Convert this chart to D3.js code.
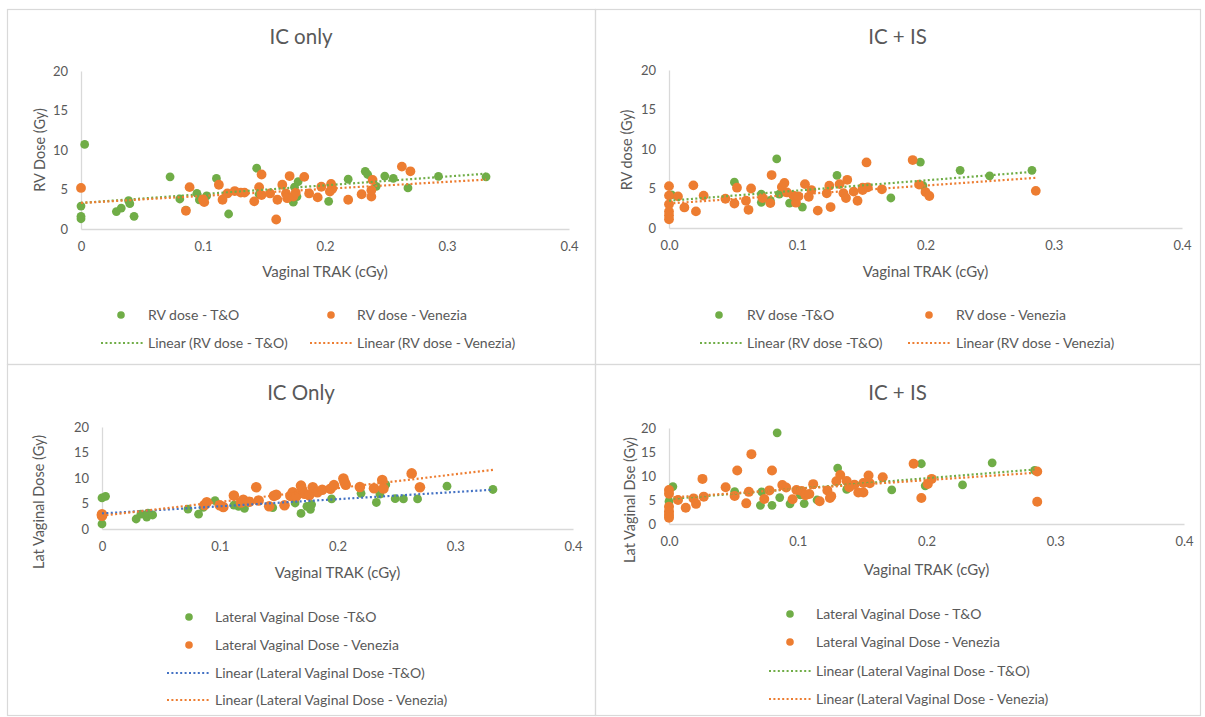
<!DOCTYPE html>
<html>
<head>
<meta charset="utf-8">
<script src="https://cdn.jsdelivr.net/npm/d3@7"></script>
<style>
  body { margin: 0; background: #fff; }
  svg { display: block; }
  text { font-family: Lato, "Open Sans", sans-serif; fill: #595959; }
</style>
</head>
<body>
<svg id="chart" width="1205" height="717"></svg>
<script>
// ---- Data: [Vaginal TRAK (cGy), dose (Gy)] ----

// RV dose, IC only
const rvIcOnlyTO = [
  [0, 1.3], [0, 1.6], [0, 2.9], [0.003, 10.7], [0.029, 2.2], [0.033, 2.65], [0.039, 3.6],
  [0.040, 3.2], [0.0435, 1.6], [0.073, 6.6], [0.081, 3.8], [0.086, 2.4], [0.095, 4.5],
  [0.097, 3.7], [0.103, 4.2], [0.111, 6.4], [0.121, 1.9], [0.144, 7.7], [0.146, 4.4],
  [0.174, 3.4], [0.175, 5.3], [0.178, 6.0], [0.177, 4.1], [0.203, 3.5], [0.219, 6.3],
  [0.233, 7.3], [0.235, 6.9], [0.242, 5.4], [0.249, 6.7], [0.256, 6.4], [0.268, 5.2],
  [0.293, 6.65], [0.332, 6.6]
];
const rvIcOnlyVen = [
  [0, 5.2], [0.086, 2.3], [0.089, 5.3], [0.100, 3.75], [0.101, 3.4], [0.113, 5.6],
  [0.116, 3.7], [0.120, 4.5], [0.126, 4.8], [0.131, 4.6], [0.134, 4.6], [0.142, 3.5],
  [0.146, 5.3], [0.148, 6.9], [0.148, 4.3], [0.155, 4.5], [0.160, 1.2], [0.161, 3.7],
  [0.165, 5.6], [0.168, 4.5], [0.169, 3.9], [0.171, 6.7], [0.174, 4.1], [0.176, 4.6],
  [0.183, 6.6], [0.187, 4.5], [0.194, 4.0], [0.197, 5.35], [0.204, 4.75], [0.205, 5.7],
  [0.206, 5.1], [0.219, 3.7], [0.230, 4.4], [0.238, 4.1], [0.238, 4.9], [0.239, 6.2],
  [0.263, 7.9], [0.270, 7.3]
];

// RV dose, IC + IS
const rvIcIsTO = [
  [0.002, 4.2], [0.051, 5.8], [0.072, 4.3], [0.072, 3.25], [0.079, 3.5], [0.084, 8.75],
  [0.086, 4.3], [0.094, 3.15], [0.104, 2.65], [0.131, 6.65], [0.173, 3.8], [0.196, 8.35],
  [0.198, 5.35], [0.227, 7.3], [0.250, 6.6], [0.283, 7.3]
];
const rvIcIsVen = [
  [0, 5.3], [0, 4.1], [0, 3.0], [0, 2.1], [0, 1.6], [0, 1.1], [0.007, 4.0], [0.012, 2.6],
  [0.019, 5.4], [0.021, 2.1], [0.027, 4.1], [0.044, 3.7], [0.051, 3.1], [0.053, 5.1],
  [0.060, 3.45], [0.062, 2.3], [0.064, 5.0], [0.073, 3.8], [0.079, 3.15], [0.080, 6.7],
  [0.088, 5.2], [0.090, 5.7], [0.092, 4.5], [0.097, 4.1], [0.099, 3.2], [0.101, 4.0],
  [0.106, 5.55], [0.109, 3.95], [0.111, 4.8], [0.116, 2.2], [0.123, 4.4], [0.125, 5.35],
  [0.126, 2.65], [0.133, 5.55], [0.136, 4.4], [0.138, 3.8], [0.139, 6.1], [0.144, 4.6],
  [0.147, 3.45], [0.151, 4.8], [0.151, 5.1], [0.154, 8.3], [0.155, 5.15], [0.166, 4.9],
  [0.190, 8.6], [0.195, 5.5], [0.200, 4.55], [0.203, 4.05], [0.286, 4.7]
];

// Lateral vaginal dose, IC only
const latIcOnlyTO = [
  [0, 6.1], [0.003, 6.4], [0, 1.0], [0.029, 1.96], [0.033, 2.9], [0.038, 2.35], [0.039, 3.1],
  [0.043, 2.75], [0.073, 3.9], [0.082, 2.9], [0.086, 4.25], [0.096, 5.55], [0.112, 4.7],
  [0.116, 4.45], [0.121, 4.05], [0.145, 4.2], [0.164, 5.1], [0.169, 3.05], [0.174, 4.45],
  [0.178, 4.8], [0.177, 3.85], [0.195, 5.9], [0.220, 7.0], [0.233, 5.2], [0.236, 6.85],
  [0.241, 8.7], [0.249, 5.95], [0.256, 5.9], [0.268, 5.9], [0.293, 8.4], [0.332, 7.75]
];
const latIcOnlyVen = [
  [0, 2.6], [0, 2.9], [0.087, 4.7], [0.089, 5.25], [0.100, 4.65], [0.103, 4.3], [0.112, 6.55],
  [0.118, 5.2], [0.120, 5.75], [0.125, 5.35], [0.131, 8.2], [0.133, 5.6], [0.142, 4.45],
  [0.146, 6.5], [0.148, 6.7], [0.155, 4.65], [0.160, 6.5], [0.162, 7.2], [0.165, 6.4],
  [0.169, 8.5], [0.170, 7.7], [0.172, 6.9], [0.176, 6.6], [0.179, 8.2], [0.180, 7.4],
  [0.183, 7.2], [0.187, 7.7], [0.194, 7.9], [0.197, 8.6], [0.205, 9.9], [0.206, 9.15],
  [0.207, 8.7], [0.219, 8.25], [0.231, 8.0], [0.238, 9.6], [0.239, 7.95], [0.263, 10.9],
  [0.270, 8.2]
];

// Lateral vaginal dose, IC + IS
const latIcIsTO = [
  [0.003, 7.8], [0, 4.7], [0.051, 6.75], [0.071, 3.9], [0.072, 6.7], [0.080, 3.9],
  [0.084, 19.0], [0.086, 5.5], [0.094, 4.2], [0.102, 6.05], [0.105, 4.25], [0.115, 5.0],
  [0.131, 11.65], [0.138, 7.2], [0.173, 7.1], [0.196, 12.55], [0.199, 7.95], [0.228, 8.15],
  [0.251, 12.75], [0.284, 11.15]
];
const latIcIsVen = [
  [0, 7.1], [0, 6.3], [0, 3.6], [0, 2.6], [0, 1.9], [0, 1.3], [0.007, 5.0], [0.013, 3.4],
  [0.019, 5.3], [0.021, 4.2], [0.026, 9.4], [0.027, 5.7], [0.044, 7.65], [0.051, 5.85],
  [0.053, 11.15], [0.060, 4.3], [0.062, 6.7], [0.064, 14.55], [0.074, 5.2], [0.078, 7.0],
  [0.080, 11.15], [0.088, 8.1], [0.091, 7.6], [0.096, 5.15], [0.099, 7.1], [0.103, 6.9],
  [0.106, 6.0], [0.109, 6.25], [0.112, 8.3], [0.117, 4.75], [0.123, 7.0], [0.125, 5.4],
  [0.126, 5.8], [0.130, 8.9], [0.133, 10.2], [0.138, 8.95], [0.140, 7.65], [0.144, 8.2],
  [0.147, 6.55], [0.151, 8.55], [0.151, 6.55], [0.155, 10.1], [0.156, 8.5], [0.166, 9.75],
  [0.190, 12.55], [0.196, 5.4], [0.201, 8.35], [0.204, 9.4], [0.286, 10.95], [0.286, 4.65]
];

// Linear trendlines: [[x0, y0], [x1, y1]]
const fitRvIcOnlyTO  = [[0, 3.3], [0.332, 7.0]];
const fitRvIcOnlyVen = [[0, 3.3], [0.332, 6.25]];
const fitRvIcIsTO    = [[0, 3.45], [0.283, 7.1]];
const fitRvIcIsVen   = [[0, 3.1], [0.286, 6.35]];
const fitLatIcOnlyTO  = [[0, 3.05], [0.332, 7.7]];
const fitLatIcOnlyVen = [[0, 2.6], [0.332, 11.6]];
const fitLatIcIsTO    = [[0, 5.2], [0.284, 11.35]];
const fitLatIcIsVen   = [[0, 5.5], [0.286, 10.7]];

// Axis ticks
const yTicks = [0, 5, 10, 15, 20];
const xTicks = [0, 0.1, 0.2, 0.3, 0.4];
const xTickLabelsA = ["0", "0.1", "0.2", "0.3", "0.4"];
const xTickLabelsB = ["0.0", "0.1", "0.2", "0.3", "0.4"];

// Text
const titles = ["IC only", "IC + IS", "IC Only", "IC + IS"];
const yTitles = ["RV Dose (Gy)", "RV dose (Gy)", "Lat Vaginal Dose (Gy)", "Lat Vaginal Dse (Gy)"];
const xTitle = "Vaginal TRAK (cGy)";
const legendRv1 = ["RV dose - T&O", "RV dose - Venezia", "Linear (RV dose - T&O)", "Linear (RV dose - Venezia)"];
const legendRv2 = ["RV dose -T&O", "RV dose - Venezia", "Linear (RV dose -T&O)", "Linear (RV dose - Venezia)"];
const legendLat1 = ["Lateral Vaginal Dose -T&O", "Lateral Vaginal Dose - Venezia", "Linear (Lateral Vaginal Dose -T&O)", "Linear (Lateral Vaginal Dose - Venezia)"];
const legendLat2 = ["Lateral Vaginal Dose - T&O", "Lateral Vaginal Dose - Venezia", "Linear (Lateral Vaginal Dose - T&O)", "Linear (Lateral Vaginal Dose - Venezia)"];

// ---- Styling ----
const GREEN = "#70AD47", ORANGE = "#ED7D31", BLUE = "#4472C4";
const GRID = "#d9d9d9";

// ---- Panel layout ----
const panels = [
  { box: [7, 9, 588, 355], xr: [81, 569], yr: [229, 71], titleY: 37, ytX: 40, ytY: 150, xtY: 272,
    xLabels: xTickLabelsA, title: titles[0], yTitle: yTitles[0],
    to: rvIcOnlyTO, ven: rvIcOnlyVen, fitTo: fitRvIcOnlyTO, fitVen: fitRvIcOnlyVen, fitToColor: GREEN,
    rTo: 4.4, rVen: 4.9, legend: legendRv1, legendLayout: "grid",
    leg: { rows: [315, 343], cols: [{ dot: 121, l0: 101, l1: 143, text: 148 }, { dot: 331, l0: 310, l1: 352, text: 357 }] } },
  { box: [595, 9, 605, 355], xr: [669, 1182], yr: [228, 70], titleY: 37, ytX: 627, ytY: 150, xtY: 272,
    xLabels: xTickLabelsB, title: titles[1], yTitle: yTitles[1],
    to: rvIcIsTO, ven: rvIcIsVen, fitTo: fitRvIcIsTO, fitVen: fitRvIcIsVen, fitToColor: GREEN,
    rTo: 4.4, rVen: 4.9, legend: legendRv2, legendLayout: "grid",
    leg: { rows: [315, 343], cols: [{ dot: 719, l0: 700, l1: 743, text: 747 }, { dot: 929, l0: 908, l1: 951, text: 956 }] } },
  { box: [7, 364, 588, 351], xr: [102, 573], yr: [529, 427], titleY: 393, ytX: 39, ytY: 502, xtY: 573,
    xLabels: xTickLabelsA, title: titles[2], yTitle: yTitles[2],
    to: latIcOnlyTO, ven: latIcOnlyVen, fitTo: fitLatIcOnlyTO, fitVen: fitLatIcOnlyVen, fitToColor: BLUE,
    rTo: 4.4, rVen: 5.3, legend: legendLat1, legendLayout: "list",
    leg: { rows: [617, 645, 673, 700], dot: 189, l0: 167, l1: 211, text: 215 } },
  { box: [595, 364, 605, 351], xr: [669, 1184], yr: [524, 428], titleY: 393, ytX: 630, ytY: 500, xtY: 570,
    xLabels: xTickLabelsB, title: titles[3], yTitle: yTitles[3],
    to: latIcIsTO, ven: latIcIsVen, fitTo: fitLatIcIsTO, fitVen: fitLatIcIsVen, fitToColor: GREEN,
    rTo: 4.4, rVen: 5.0, legend: legendLat2, legendLayout: "list",
    leg: { rows: [614, 642, 671, 699], dot: 790, l0: 769, l1: 811, text: 816 } }
];

const svg = d3.select("#chart");
svg.append("rect").attr("width", 1205).attr("height", 717).attr("fill", "#fff");

panels.forEach(p => {
  const g = svg.append("g");

  // panel frame
  g.append("rect")
    .attr("x", p.box[0] + 0.5).attr("y", p.box[1] + 0.5)
    .attr("width", p.box[2]).attr("height", p.box[3])
    .attr("fill", "none").attr("stroke", GRID).attr("stroke-width", 1.2);

  const x = d3.scaleLinear().domain([0, 0.4]).range(p.xr);
  const y = d3.scaleLinear().domain([0, 20]).range(p.yr);

  // axes
  const yAxis = g.append("g").attr("transform", `translate(${p.xr[0]},0)`)
    .call(d3.axisLeft(y).tickValues(yTicks).tickSize(0).tickSizeOuter(0).tickPadding(13));
  const xAxis = g.append("g").attr("transform", `translate(0,${p.yr[0]})`)
    .call(d3.axisBottom(x).tickValues(xTicks).tickSize(0).tickSizeOuter(0).tickPadding(13)
      .tickFormat((d, i) => p.xLabels[i]));
  [xAxis, yAxis].forEach(a => {
    a.select(".domain").attr("stroke", GRID).attr("stroke-width", 1.3);
    a.selectAll("text").attr("font-size", 13).attr("fill", "#595959")
      .style("font-family", "Lato, 'Open Sans', sans-serif");
  });

  // titles
  g.append("text").attr("x", p.box[0] + p.box[2] / 2).attr("y", p.titleY)
    .attr("text-anchor", "middle").attr("dy", "0.35em")
    .attr("font-size", 20.5).text(p.title);
  g.append("text").attr("transform", `translate(${p.ytX},${p.ytY}) rotate(-90)`)
    .attr("text-anchor", "middle").attr("dy", "0.35em")
    .attr("font-size", 14.5).text(p.yTitle);
  g.append("text").attr("x", (p.xr[0] + p.xr[1]) / 2).attr("y", p.xtY)
    .attr("text-anchor", "middle").attr("dy", "0.35em")
    .attr("font-size", 15).text(xTitle);

  // points
  g.append("g").selectAll("circle").data(p.to).join("circle")
    .attr("cx", d => x(d[0])).attr("cy", d => y(d[1])).attr("r", p.rTo).attr("fill", GREEN);
  g.append("g").selectAll("circle").data(p.ven).join("circle")
    .attr("cx", d => x(d[0])).attr("cy", d => y(d[1])).attr("r", p.rVen).attr("fill", ORANGE);

  // trendlines
  const line = d3.line().x(d => x(d[0])).y(d => y(d[1]));
  [[p.fitTo, p.fitToColor], [p.fitVen, ORANGE]].forEach(([f, c]) => {
    g.append("path").attr("d", line(f)).attr("fill", "none")
      .attr("stroke", c).attr("stroke-width", 2.2).attr("stroke-dasharray", "2 2.4");
  });

  // legend
  const colorsDot = [GREEN, ORANGE];
  const colorsLine = [p.fitToColor, ORANGE];
  const L = p.leg;
  const items = [];
  if (p.legendLayout === "grid") {
    for (let i = 0; i < 2; i++) {
      items.push({ kind: "dot", y: L.rows[0], c: colorsDot[i], col: L.cols[i], label: p.legend[i] });
      items.push({ kind: "line", y: L.rows[1], c: colorsLine[i], col: L.cols[i], label: p.legend[2 + i] });
    }
  } else {
    for (let i = 0; i < 4; i++) {
      items.push({ kind: i < 2 ? "dot" : "line", y: L.rows[i],
        c: i < 2 ? colorsDot[i] : colorsLine[i - 2], col: L, label: p.legend[i] });
    }
  }
  const lg = g.append("g");
  items.forEach(it => {
    if (it.kind === "dot") {
      lg.append("circle").attr("cx", it.col.dot).attr("cy", it.y).attr("r", 3.8).attr("fill", it.c);
    } else {
      lg.append("line").attr("x1", it.col.l0).attr("x2", it.col.l1).attr("y1", it.y).attr("y2", it.y)
        .attr("stroke", it.c).attr("stroke-width", 2).attr("stroke-dasharray", "2 2.4");
    }
    lg.append("text").attr("x", it.col.text).attr("y", it.y).attr("dy", "0.35em")
      .attr("font-size", 14).text(it.label);
  });
});
</script>
</body>
</html>
